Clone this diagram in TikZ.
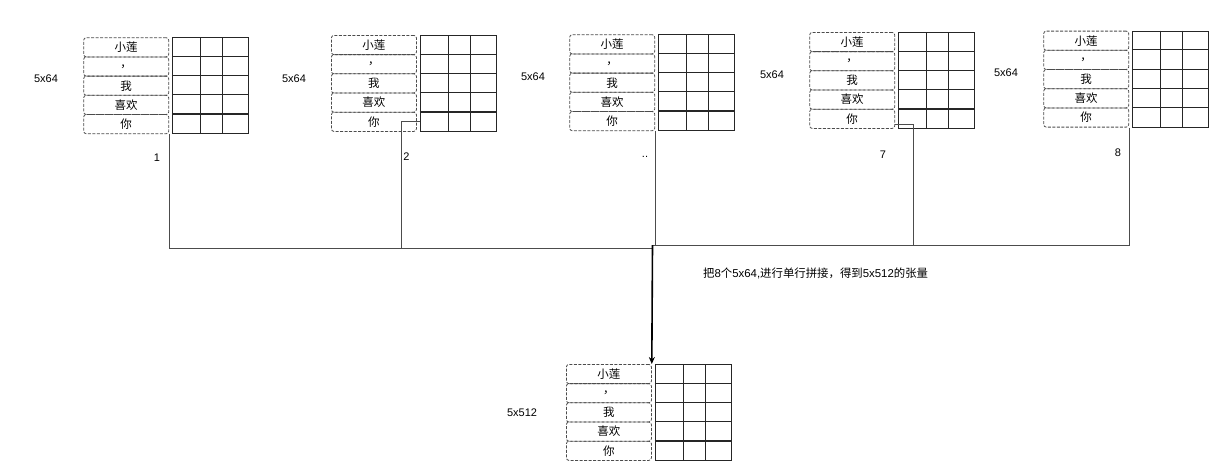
\documentclass[tikz,border=0pt]{standalone}
\usepackage{fontspec}
\setmainfont{Liberation Sans}
\newfontfamily\cjk{Noto Sans CJK SC}
\usetikzlibrary{arrows.meta,calc}
\tikzset{
 wordbox/.style={draw=black!70, dash pattern=on 3pt off 1.5pt, rounded corners=2.5pt, minimum width=85pt, minimum height=19.2pt, inner sep=0pt, anchor=north west, font=\cjk\fontsize{11.5}{13}\selectfont, line width=0.8pt},
 gridbox/.style={draw=black!85, minimum width=76.5pt, minimum height=96pt, inner sep=0pt, anchor=north west, line width=0.9pt},
 gline/.style={draw=black!85, line width=0.9pt},
 sepline/.style={draw=black!85, line width=1.6pt},
 lbl/.style={font=\fontsize{11}{13}\selectfont, inner sep=0pt},
 conn/.style={draw=black!70, line width=0.9pt},
 mainarrow/.style={draw=black, line width=1.6pt, -{Stealth[length=7pt,width=6pt]}},
}
\newcommand\wordgroup[3]{%
  \foreach \t [count=\i from 0] in {小莲,，,我,喜欢,你}{
    \node[wordbox] (#1w\i) at (#2, #3+\i*19.2) {\t};
  }
  \node[gridbox] (#1g) at (#2+88.5, #3) {};
  \foreach \c in {28.6,50.6}{\draw[gline] ([xshift=\c pt]#1g.north west) -- ([xshift=\c pt]#1g.south west);}
  \foreach \r in {19.2,38.4,57.6}{\draw[gline] ([yshift=-\r pt]#1g.north west) -- ([yshift=-\r pt]#1g.north east);}
  \draw[sepline] ([yshift=-76.8pt]#1g.north west) -- ([yshift=-76.8pt]#1g.north east);
}
\begin{document}
\begin{tikzpicture}[x=1pt,y=-1pt]
\useasboundingbox (0,0) rectangle (1225,475);
\wordgroup{ga}{83.3}{37.3}
\wordgroup{gb}{331}{35}
\wordgroup{gc}{569.3}{34.3}
\wordgroup{gd}{809.3}{32}
\wordgroup{ge}{1043.3}{30.7}
\wordgroup{gf}{566}{364}

\node[lbl] (la) at (46,79) {5x64};
\node[lbl] (lb) at (294,79) {5x64};
\node[lbl] (lc) at (533,77) {5x64};
\node[lbl] (ld) at (772,75) {5x64};
\node[lbl] (le) at (1006,73) {5x64};
\node[lbl] (lf) at (522,413) {5x512};

\node[lbl] (na) at (157,158) {1};
\node[lbl] (nb) at (406.5,157) {2};
\node[lbl] (nc) at (645,157) {..};
\node[lbl] (nd) at (883,155) {7};
\node[lbl] (ne) at (1118,153) {8};

\coordinate (hubL) at (652.5,248);
\coordinate (hubR) at (652.5,245);
\coordinate (cb) at (401,248);
\coordinate (cd) at (913.3,245);

\draw[conn] (gaw4.south east) |- (hubL);
\draw[conn] (gbg.west |- gbw4.center) -| (cb);
\draw[conn] (gcw4.south east) -- (gcw4.south east |- hubR);
\draw[conn] ([yshift=-6pt]gdw4.east) -| (cd) -- (hubR);
\draw[conn] (gew4.south east) |- (cd);
\draw[mainarrow] (hubR) -- (gfw0.north east);

\node[lbl, anchor=west, font=\fontsize{11.4}{13}\selectfont] (desc) at (703,273) {{\cjk 把}8{\cjk 个}5x64,{\cjk 进行单行拼接，得到}5x512{\cjk 的张量}};
\end{tikzpicture}
\end{document}
